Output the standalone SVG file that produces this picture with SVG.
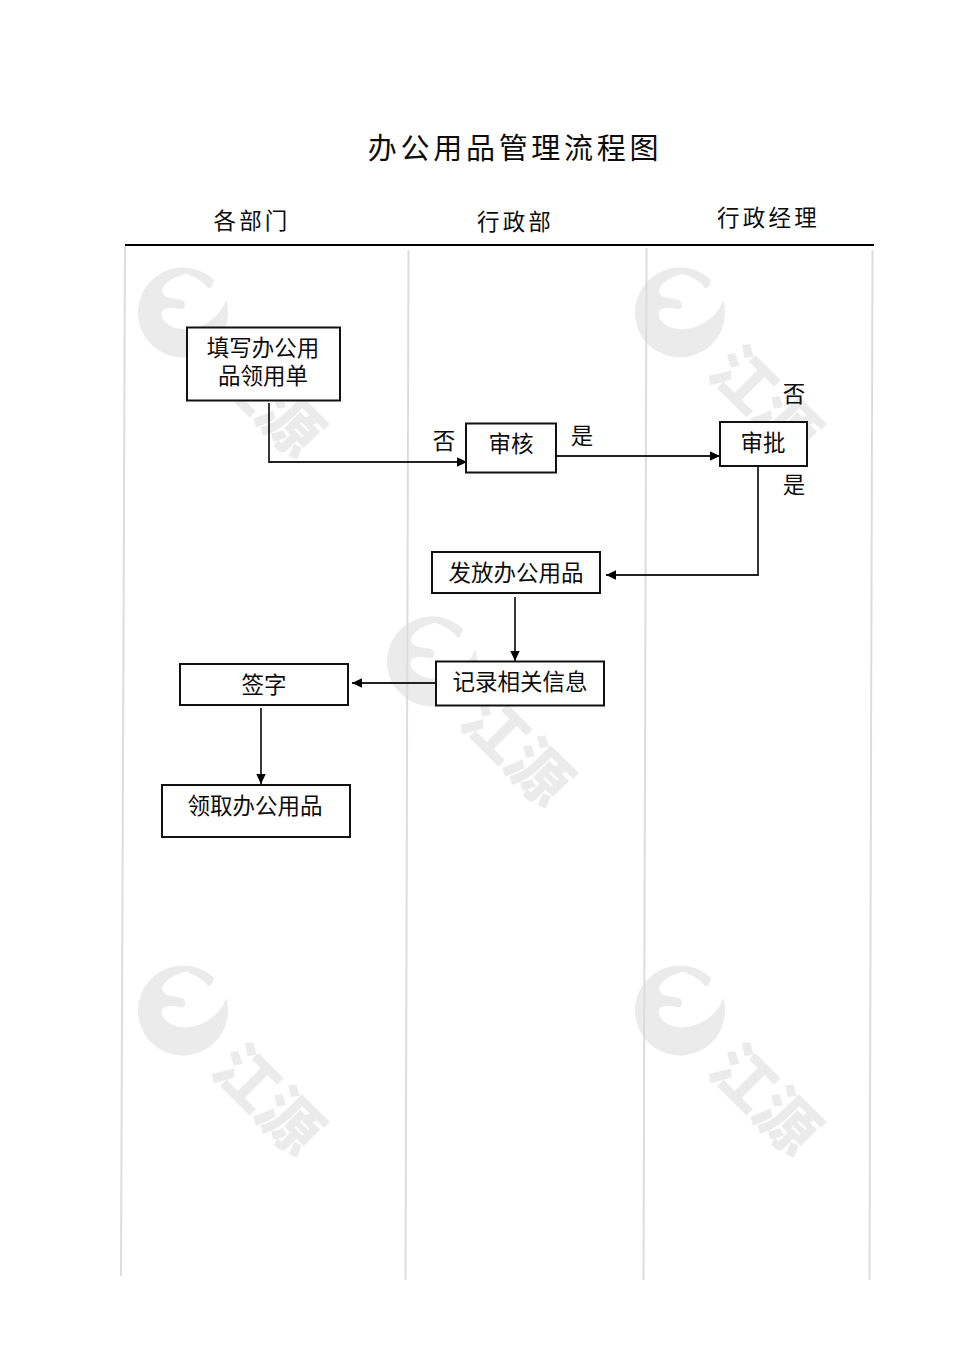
<svg xmlns="http://www.w3.org/2000/svg" width="970" height="1371" viewBox="0 0 970 1371">
<style>
text{font-family:"Noto Sans CJK SC","Liberation Sans",sans-serif;fill:#0c0c0c}
.t{font-size:22.5px;text-anchor:middle}
.h{font-size:22.5px;text-anchor:middle;letter-spacing:3.2px}
.wm{font-size:62px;font-weight:900;fill:#ebebeb;text-anchor:middle}
.box{fill:#fff;stroke:#111;stroke-width:2}
.lane{stroke:#dcdcdc;stroke-width:2;fill:none}
.c{stroke:#222;stroke-width:1.8;fill:none;marker-end:url(#arr)}
</style>
<defs>
<marker id="arr" markerUnits="userSpaceOnUse" markerWidth="12" markerHeight="11" refX="10" refY="5.500" orient="auto"><path d="M0 0.800L10 5.500L0 10.200Z" fill="#000"/></marker>
<g id="wm">
<circle r="45" fill="#ebebeb"/>
<path transform="scale(.3333) translate(-180,-188)" fill="#fff" d="M190 72C225 85 245 100 255 115C262 118 270 108 270 98L300 60L345 100L345 150L310 150C290 210 220 250 160 235C125 225 110 200 118 185C125 170 150 175 175 178C190 178 190 155 175 150C150 145 120 145 118 125C118 100 155 80 190 72Z"/>
<text class="wm" transform="translate(85,89) rotate(45)" y="22">江源</text>
</g>
</defs>
<rect width="970" height="1371" fill="#fff"/>
<g id="watermarks">
<use href="#wm" x="183" y="312.500"/>
<use href="#wm" x="680" y="312.500"/>
<use href="#wm" x="432" y="661.500"/>
<use href="#wm" x="183" y="1010.500"/>
<use href="#wm" x="680" y="1010.500"/>
</g>
<g id="lanes">
<path class="lane" d="M125 246L121 1276"/>
<path class="lane" d="M408.500 250L405.500 1280"/>
<path class="lane" d="M646.500 248L643.500 1280"/>
<path class="lane" d="M872.500 250L869.500 1280"/>
<path d="M125 245H874" stroke="#000" stroke-width="1.8" fill="none"/>
</g>
<g id="headers">
<text x="515" y="159" text-anchor="middle" style="font-size:29px;letter-spacing:3.7px">办公用品管理流程图</text>
<text class="h" x="252" y="229">各部门</text>
<text class="h" x="515.500" y="230">行政部</text>
<text class="h" x="768.500" y="226">行政经理</text>
</g>
<g id="connectors">
<path class="c" d="M269 403V462H467"/>
<path class="c" d="M556 456H720"/>
<path class="c" d="M758 467V575H606"/>
<path class="c" d="M515 597V661"/>
<path class="c" d="M436 683H352"/>
<path class="c" d="M261 708V784"/>
</g>
<g id="n1"><rect class="box" x="187" y="327.500" width="153" height="73"/><text class="t"><tspan x="263" y="356">填写办公用</tspan><tspan x="263" y="384">品领用单</tspan></text></g>
<g id="n2"><rect class="box" x="466" y="423.500" width="90" height="49"/><text class="t" x="511" y="452">审核</text></g>
<g id="n3"><rect class="box" x="720" y="422" width="87" height="44"/><text class="t" x="763" y="451">审批</text></g>
<g id="n4"><rect class="box" x="432" y="552" width="168" height="41"/><text class="t" x="516" y="581">发放办公用品</text></g>
<g id="n5"><rect class="box" x="436" y="661.500" width="168" height="44"/><text class="t" x="520" y="689.500">记录相关信息</text></g>
<g id="n6"><rect class="box" x="180" y="664" width="168" height="41"/><text class="t" x="264" y="692.500">签字</text></g>
<g id="n7"><rect class="box" x="162" y="785" width="188" height="52"/><text class="t" x="255" y="813.500">领取办公用品</text></g>
<g id="labels">
<text class="t" x="444" y="449">否</text>
<text class="t" x="582" y="444">是</text>
<text class="t" x="794" y="402">否</text>
<text class="t" x="794" y="493">是</text>
</g>
</svg>
